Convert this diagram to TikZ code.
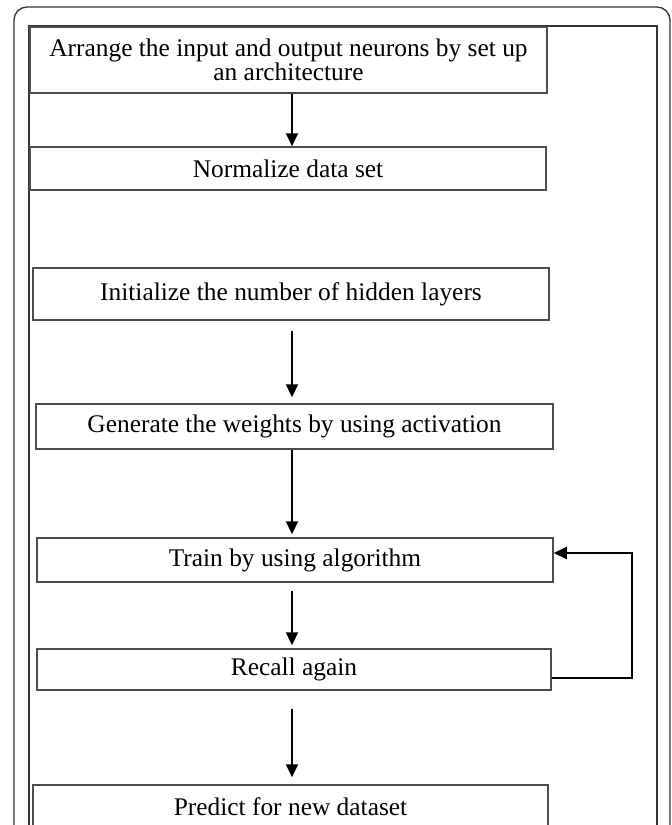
\documentclass[tikz,border=0pt]{standalone}
\usepackage{fontspec}
\setmainfont{Liberation Serif}
\usetikzlibrary{arrows.meta,calc}

\begin{document}
\begin{tikzpicture}[>={Triangle[length=6.5pt,width=6pt]},x=0.5pt,y=-0.5pt]
	
	% ------------------------------------------------------------
	% Styles
	% ------------------------------------------------------------
	\tikzset{
		frame/.style={draw=black!80,line width=0.65pt},
		stepbox/.style={draw=black!70,line width=0.75pt,inner sep=0pt,align=center,
			minimum width=258pt,font=\fontsize{12.7}{12}\selectfont},
		arr/.style={->,line width=1.1pt,draw=black}
	}
	
	% page size, everything below the lower edge is cut away
	\useasboundingbox (0,0) rectangle (671,825);
	\clip (0,0) rectangle (671,825);
	
	% ============================================================
	% Frames round the chart
	% ============================================================
	\draw[frame,rounded corners=6.5pt] (14,7) rectangle (670,900);
	\draw[frame] (29,26) rectangle (657,900);
	
	% ============================================================
	% Steps
	% ============================================================
	\node[stepbox,minimum width=258.5pt,minimum height=33pt] (arrange) at (288.5,60)
	{Arrange the input and output neurons by set up\\an architecture};
	
	\node[stepbox,minimum height=21.5pt] (normalize) at (288,168.5) {Normalize data set};
	
	\node[stepbox,minimum height=26pt] (init) at (291,294) {Initialize the number of hidden layers};
	
	\node[stepbox,minimum width=258.5pt,minimum height=22.5pt] (weights) at (294.5,426.5)
	{Generate the weights by using activation};
	
	\node[stepbox,minimum height=22pt] (train) at (295,560) {Train by using algorithm};
	
	\node[stepbox,minimum width=257pt,minimum height=20.5pt] (recall) at (294,669.5) {Recall again};
	
	% last box runs past the lower edge
	\node[stepbox,minimum width=257.5pt,minimum height=22pt] (predict) at (290.5,807)
	{Predict for new dataset};
	
	% ============================================================
	% Arrows
	% ============================================================
	\coordinate (ax) at (292,0);
	
	\draw[arr] (arrange.south -| ax) -- (normalize.north -| ax);
	\draw[arr,shorten <=5pt,shorten >=3pt] (init.south -| ax) -- (weights.north -| ax);
	\draw[arr,shorten >=1.5pt] (weights.south -| ax) -- (train.north -| ax);
	\draw[arr,shorten <=4pt,shorten >=1.5pt] (train.south -| ax) -- (recall.north -| ax);
	\draw[arr,shorten <=9pt,shorten >=3.5pt] (recall.south -| ax) -- (predict.north -| ax);
	
	% feedback from recall back to training
	\coordinate (loopb) at (632,678);
	\coordinate (loopt) at (632,553);
	\draw[arr] ([yshift=-4.25pt]recall.east) -- (loopb) -- (loopt) -- ([yshift=3.5pt]train.east);
	
\end{tikzpicture}
\end{document}
